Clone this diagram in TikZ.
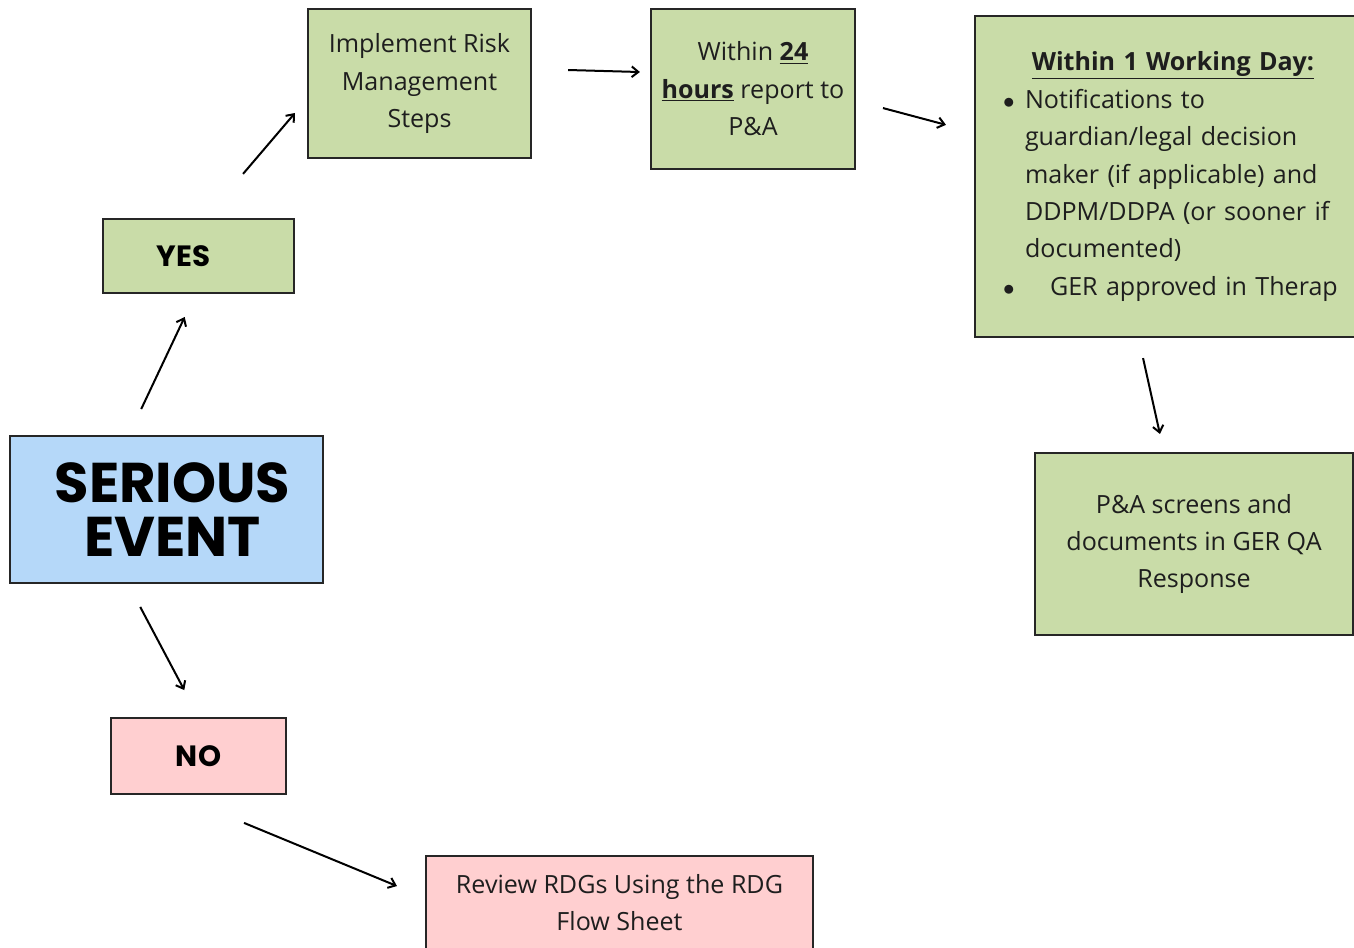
\documentclass[tikz,border=0pt]{standalone}
\usepackage{fontspec}
\setmainfont{Open Sans}
\newfontfamily\headfont{Poppins}
\usetikzlibrary{arrows.meta,calc}

\definecolor{boxgreen}{RGB}{201,220,168}
\definecolor{boxblue}{RGB}{181,216,249}
\definecolor{boxpink}{RGB}{255,207,208}
\definecolor{inktext}{RGB}{30,30,30}

\begin{document}
\begin{tikzpicture}[x=0.75pt,y=-0.75pt,->,>={Straight Barb[length=5pt,width=8pt]},line width=1.5pt,
                    box/.style={draw=black!85,line width=1.6pt,inner sep=0pt,align=center,
                      text=inktext,font=\fontsize{18.8pt}{28.1pt}\selectfont},
                    greenbox/.style={box,fill=boxgreen},
                    pinkbox/.style={box,fill=boxpink},
                    bluebox/.style={box,fill=boxblue},
                    headtext/.style={text=black,font=\headfont\bfseries\fontsize{22pt}{26pt}\selectfont}]
  \useasboundingbox (0,0) rectangle (1354,948);
  \clip (0,0) rectangle (1354,948);

  \node[bluebox,minimum width=234.75pt,minimum height=110.25pt,
        headtext,font=\headfont\bfseries\fontsize{42pt}{40.5pt}\selectfont]
                                   (se)   at (166.5,509.5) {\hspace*{9pt}SERIOUS\\\hspace*{9pt}EVENT};
  \node[greenbox,minimum width=143.25pt,minimum height=55.5pt,headtext]
                                   (yes)  at (198.5,256)   {YES\hspace*{22.5pt}};
  \node[pinkbox,minimum width=131.25pt,minimum height=57pt,headtext]
                                   (no)   at (198.5,756)   {NO};
  \node[greenbox,minimum width=167.25pt,minimum height=111.75pt]
                                   (impl) at (419.5,83.5)  {Implement Risk\\Management\\Steps};
  \node[greenbox,minimum width=153pt,minimum height=120pt]
                                   (w24)  at (753,89)      {Within \underline{\textbf{24}}\\\underline{\textbf{hours}} report to\\P\&A};
  \node[greenbox,minimum width=297pt,minimum height=240.75pt,align=left,
        text width=255pt,inner xsep=21pt]
                                   (day)  at (1173,176.5)  {\makebox[255pt][c]{\underline{\textbf{Within 1 Working Day:}}}\\
                                                            \makebox[16.5pt][l]{$\bullet$}Notifications to\\
                                                            \hspace*{16.5pt}guardian/legal decision\\
                                                            \hspace*{16.5pt}maker (if applicable) and\\
                                                            \hspace*{16.5pt}DDPM/DDPA (or sooner if\\
                                                            \hspace*{16.5pt}documented)\\
                                                            \makebox[16.5pt][l]{$\bullet$}\hspace*{18.75pt}GER approved in Therap};
  \node[greenbox,minimum width=238.5pt,minimum height=136.5pt]
                                   (pa)   at (1194,544)    {P\&A screens and\\documents in GER QA\\Response};
  \node[pinkbox,minimum width=290.25pt,minimum height=69.75pt]
                                   (rev)  at (619.5,902.5) {Review RDGs Using the RDG\\Flow Sheet};

  % yes branch
  \draw[shorten <=21.5pt,shorten >=19pt]   ($(se.north)+(-37.5,0)$) -- ($(yes.south)+(-3,0)$);
  \draw[shorten <=43.4pt,shorten >=13.8pt] ($(yes.north)+(7,0)$)    -- ($(impl.west)+(0,15.5)$);
  \draw[shorten <=27pt,shorten >=7.5pt]    ($(impl.east)+(0,-14.5)$) -- ($(w24.west)+(0,-16.7)$);
  \draw[shorten <=20.9pt,shorten >=21.7pt] ($(w24.east)+(0,11.9)$)   -- ($(day.west)+(0,-44.2)$);
  \draw[shorten <=15.4pt,shorten >=13.8pt] ($(day.south)+(-34.4,0)$) -- ($(pa.north)+(-30.1,0)$);
  % no branch
  \draw[shorten <=19.4pt,shorten >=22.8pt] ($(se.south)+(-38.4,0)$)  -- (no.north);
  \draw[shorten <=54.7pt,shorten >=22.7pt] ($(no.south)+(-21.9,0)$)  -- ($(rev.west)+(0,-4.9)$);
\end{tikzpicture}
\end{document}
